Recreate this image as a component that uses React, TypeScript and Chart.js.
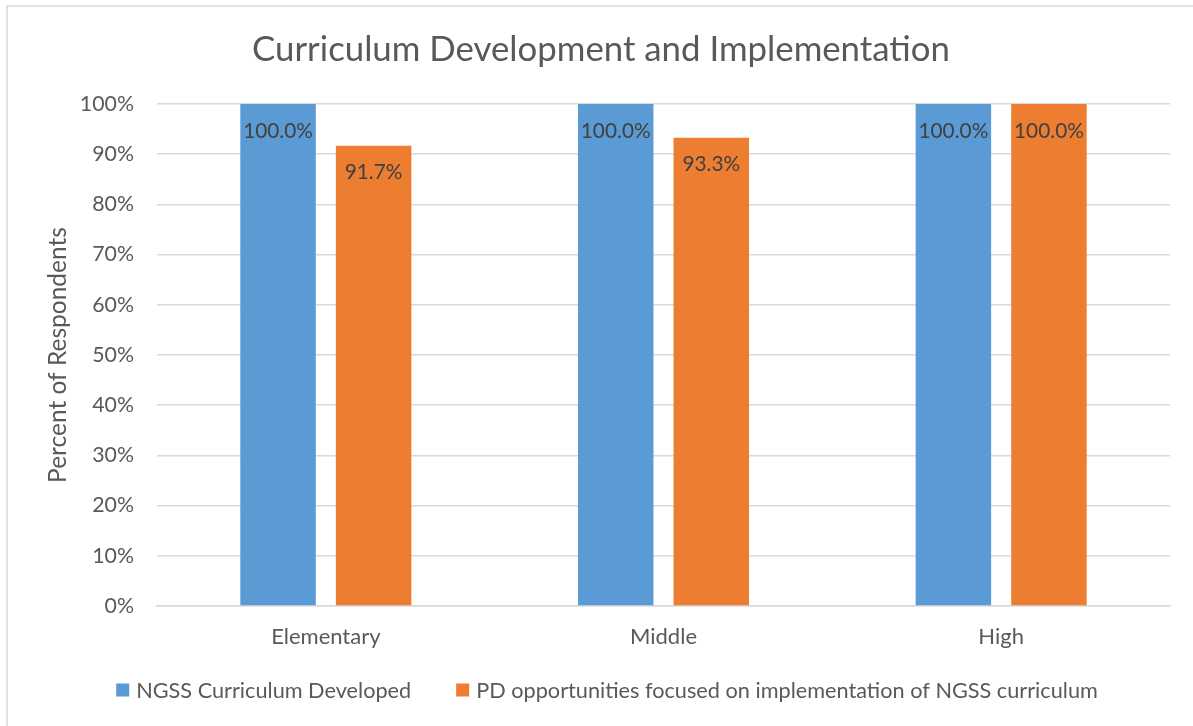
import React, { useEffect, useRef } from "react";
import { Chart, registerables } from "chart.js";

Chart.register(...registerables);

const title = "Curriculum Development and Implementation";
const categories = ["Elementary", "Middle", "High"];
const seriesNames = [
  "NGSS Curriculum Developed",
  "PD opportunities focused on implementation of NGSS curriculum",
];
const curriculumDeveloped = [100.0, 100.0, 100.0];
const pdOpportunities = [91.7, 93.3, 100.0];
const seriesColors = ["#5B9BD5", "#ED7D31"];
const yTitle = "Percent of Respondents";

const FONT = "Lato, 'Open Sans', sans-serif";

const decorPlugin = {
  id: "decor",
  afterDatasetsDraw(chart: any) {
    const ctx = chart.ctx;
    ctx.save();
    ctx.font = `20.8px ${FONT}`;
    ctx.fillStyle = "#404040";
    ctx.textAlign = "center";
    ctx.textBaseline = "middle";
    chart.data.datasets.forEach((ds: any, di: number) => {
      const meta = chart.getDatasetMeta(di);
      meta.data.forEach((bar: any, i: number) => {
        const v = ds.data[i];
        ctx.fillText(v.toFixed(1) + "%", bar.x, bar.y + 27);
      });
    });
    ctx.restore();
  },
  afterDraw(chart: any) {
    const ctx = chart.ctx;
    ctx.save();
    ctx.strokeStyle = "#d9d9d9";
    ctx.lineWidth = 1.5;
    ctx.beginPath();
    ctx.moveTo(7, chart.height);
    ctx.lineTo(7, 6);
    ctx.lineTo(chart.width, 6);
    ctx.stroke();
    ctx.font = `34.8px ${FONT}`;
    ctx.fillStyle = "#595959";
    ctx.textAlign = "center";
    ctx.textBaseline = "middle";
    ctx.fillText(title, 601, 50);
    ctx.font = `21.7px ${FONT}`;
    const box = 13;
    const gapBoxText = 7;
    const gapItems = 45;
    const widths = seriesNames.map((n) => ctx.measureText(n).width);
    const total =
      widths.reduce((a, w) => a + box + gapBoxText + w, 0) +
      gapItems * (seriesNames.length - 1);
    let x = 607 - total / 2;
    const y = 690;
    ctx.textAlign = "left";
    seriesNames.forEach((n, i) => {
      ctx.fillStyle = seriesColors[i];
      ctx.fillRect(x, y - box / 2, box, box);
      ctx.fillStyle = "#595959";
      ctx.fillText(n, x + box + gapBoxText, y + 1);
      x += box + gapBoxText + widths[i] + gapItems;
    });
    ctx.restore();
  },
};

export default function App() {
  const ref = useRef<HTMLCanvasElement>(null);
  useEffect(() => {
    document.body.style.margin = "0";
    const chart = new Chart(ref.current!, {
      type: "bar",
      data: {
        labels: categories,
        datasets: [
          {
            label: seriesNames[0],
            data: curriculumDeveloped,
            backgroundColor: seriesColors[0],
            categoryPercentage: 0.566,
            barPercentage: 0.79,
          },
          {
            label: seriesNames[1],
            data: pdOpportunities,
            backgroundColor: seriesColors[1],
            categoryPercentage: 0.566,
            barPercentage: 0.79,
          },
        ],
      },
      options: {
        responsive: false,
        animation: false,
        layout: { padding: { top: 104, left: 40, right: 23, bottom: 0 } },
        plugins: {
          legend: { display: false },
          title: { display: false },
          tooltip: { enabled: false },
        },
        scales: {
          x: {
            grid: { display: false, drawTicks: false },
            border: { display: true, color: "#d9d9d9", width: 1.5 },
            ticks: {
              color: "#595959",
              font: { family: FONT, size: 22 },
              padding: 18,
            },
            afterFit(scale: any) {
              scale.height = 726 - 606;
            },
          },
          y: {
            min: 0,
            max: 100,
            ticks: {
              stepSize: 10,
              color: "#595959",
              font: { family: FONT, size: 21.3 },
              padding: 23,
              callback: (v: any) => v + "%",
            },
            grid: { color: "#d9d9d9", lineWidth: 1.5, drawTicks: false },
            border: { display: false },
            title: {
              display: true,
              text: yTitle,
              color: "#595959",
              font: { family: FONT, size: 24.5 },
              padding: { top: 3, bottom: 0 },
            },
            afterFit(scale: any) {
              scale.width = 117;
            },
          },
        },
      },
      plugins: [decorPlugin],
    });
    return () => chart.destroy();
  }, []);
  return (
    <canvas
      ref={ref}
      width={1193}
      height={726}
      style={{ display: "block", width: 1193, height: 726 }}
    />
  );
}
